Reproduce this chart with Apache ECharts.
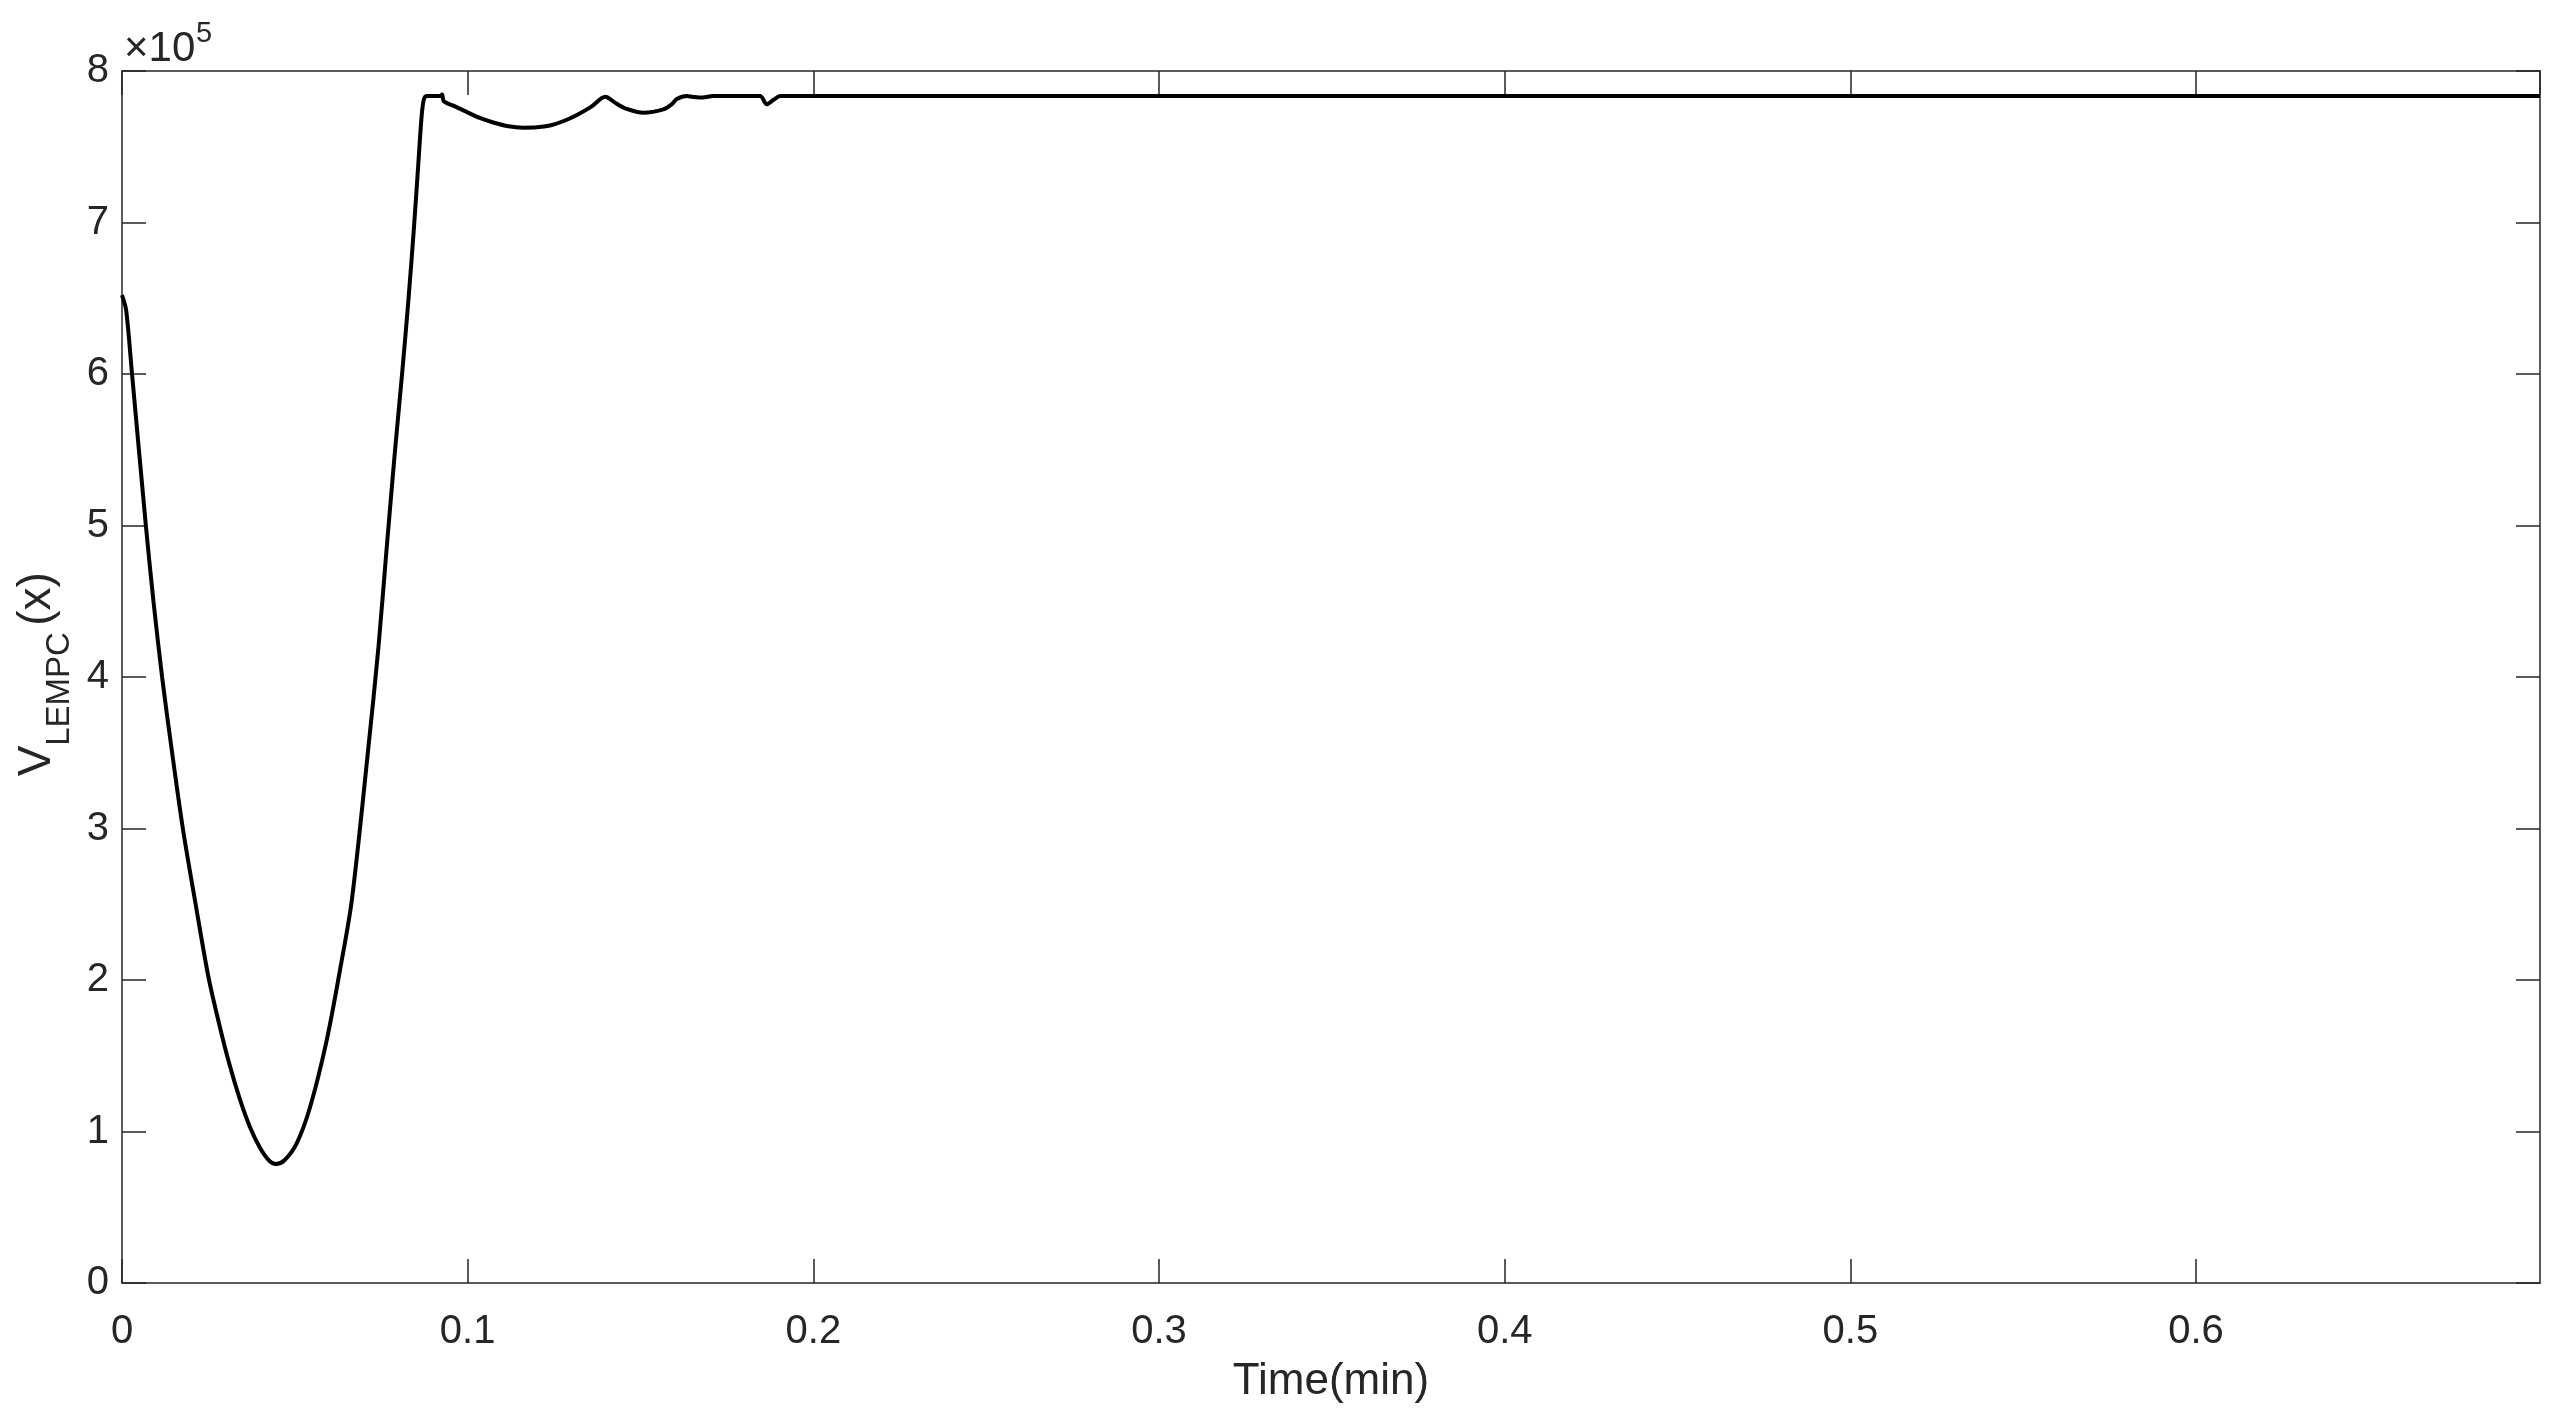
<!DOCTYPE html>
<html><head><meta charset="utf-8">
<script src="https://cdn.jsdelivr.net/npm/echarts@6/dist/echarts.min.js"></script>
<style>html,body{margin:0;padding:0;background:#fff}#c{width:2556px;height:1419px}</style>
</head><body><div id="c"></div>
<script>
// Time axis (minutes)
const timeMin = [0, 0.0012, 0.0029, 0.0069, 0.0091, 0.0116, 0.0145, 0.0176, 0.0213, 0.0250,
  0.0280, 0.0310, 0.0340, 0.0370, 0.0400, 0.0425, 0.0445, 0.0470, 0.0505, 0.0544,
  0.0592, 0.0631, 0.0665, 0.0713, 0.0742, 0.0766, 0.0790, 0.0811, 0.0829, 0.0845,
  0.0857, 0.0866, 0.0872, 0.0880, 0.0922, 0.0926, 0.0931, 0.0960, 0.0997, 0.1035,
  0.1074, 0.1118, 0.1161, 0.1200, 0.1238, 0.1278, 0.1316, 0.1358, 0.1398, 0.1430,
  0.1460, 0.1508, 0.1566, 0.1590, 0.1605, 0.1634, 0.1650, 0.1680, 0.1710, 0.1800,
  0.1846, 0.1865, 0.1885, 0.1904, 0.6995];
// V_LEMPC(x) values, in units of 1e5
const vLempc = [6.52, 6.42, 6.00, 5.00, 4.50, 4.00, 3.50, 3.00, 2.50, 2.02,
  1.72, 1.45, 1.22, 1.03, 0.89, 0.81, 0.785, 0.81, 0.92, 1.16,
  1.60, 2.07, 2.53, 3.54, 4.20, 4.86, 5.50, 6.02, 6.50, 6.98,
  7.38, 7.68, 7.80, 7.835, 7.835, 7.845, 7.80, 7.77, 7.73, 7.69,
  7.66, 7.635, 7.626, 7.628, 7.64, 7.67, 7.71, 7.765, 7.83, 7.785,
  7.75, 7.725, 7.747, 7.78, 7.815, 7.835, 7.83, 7.825, 7.835, 7.835,
  7.835, 7.78, 7.81, 7.835, 7.835];
const xTickLabels = ['0', '0.1', '0.2', '0.3', '0.4', '0.5', '0.6'];
const yTickLabels = ['0', '1', '2', '3', '4', '5', '6', '7', '8'];
const xAxisTitle = 'Time(min)';
const yTitleMain = 'V';
const yTitleSub = 'LEMPC';
const yTitleTail = '(x)';
const yMultiplierBase = '×10';
const yMultiplierExp = '5';

const FONT = 'Liberation Sans';
const AX = '#262626';

const chart = echarts.init(document.getElementById('c'), null, {renderer: 'canvas'});
const seriesData = timeMin.map((t, i) => [t, vLempc[i]]);

function xFmt(v) {
  const k = Math.round(v / 0.1);
  return Math.abs(v - k * 0.1) < 1e-6 && k < xTickLabels.length ? xTickLabels[k] : '';
}
function yFmt(v) {
  const k = Math.round(v);
  return Math.abs(v - k) < 1e-6 && k < yTickLabels.length ? yTickLabels[k] : '';
}
const lineSty = {color: AX, width: 1.5};

function rotText(txt, x, y, size) {
  return {type: 'text', x: x, y: y, rotation: Math.PI / 2, silent: true,
    style: {text: txt, fontSize: size, fontFamily: FONT, fill: AX, align: 'center', verticalAlign: 'middle'}};
}

chart.setOption({
  animation: false,
  backgroundColor: '#fff',
  grid: {left: 122, right: 16, top: 71, bottom: 136, containLabel: false},
  xAxis: [{
    type: 'value', min: 0, max: 0.6995, interval: 0.1, position: 'bottom',
    axisLine: {show: true, onZero: false, lineStyle: lineSty},
    axisTick: {show: true, inside: true, length: 24, lineStyle: lineSty},
    axisLabel: {show: true, margin: 29, fontSize: 40, color: AX, fontFamily: FONT, formatter: xFmt, showMaxLabel: false},
    splitLine: {show: false},
    name: xAxisTitle, nameLocation: 'middle', nameGap: 77,
    nameTextStyle: {fontSize: 44, color: AX, fontFamily: FONT}
  }, {
    type: 'value', min: 0, max: 0.6995, interval: 0.1, position: 'top',
    axisLine: {show: true, onZero: false, lineStyle: lineSty},
    axisTick: {show: true, inside: true, length: 24, lineStyle: lineSty},
    axisLabel: {show: false}, splitLine: {show: false}
  }],
  yAxis: [{
    type: 'value', min: 0, max: 8, interval: 1, position: 'left',
    axisLine: {show: true, onZero: false, lineStyle: lineSty},
    axisTick: {show: true, inside: true, length: 24, lineStyle: lineSty},
    axisLabel: {show: true, margin: 13, fontSize: 40, color: AX, fontFamily: FONT, formatter: yFmt},
    splitLine: {show: false}
  }, {
    type: 'value', min: 0, max: 8, interval: 1, position: 'right',
    axisLine: {show: true, onZero: false, lineStyle: lineSty},
    axisTick: {show: true, inside: true, length: 24, lineStyle: lineSty},
    axisLabel: {show: false}, splitLine: {show: false}
  }],
  series: [{
    type: 'line', xAxisIndex: 0, yAxisIndex: 0, data: seriesData,
    showSymbol: false, symbol: 'none', smooth: 0.3,
    lineStyle: {color: '#000', width: 4}, clip: true
  }],
  graphic: [
    {type: 'text', x: 124, y: 70, silent: true,
     style: {text: yMultiplierBase, fontSize: 42, fontFamily: FONT, fill: AX, align: 'left', verticalAlign: 'bottom'}},
    {type: 'text', x: 196, y: 48, silent: true,
     style: {text: yMultiplierExp, fontSize: 29, fontFamily: FONT, fill: AX, align: 'left', verticalAlign: 'bottom'}},
    rotText(yTitleMain, 37, 761, 46),
    rotText(yTitleSub, 60, 689, 33),
    rotText(yTitleTail, 37, 599, 46)
  ]
});
</script>
</body></html>
